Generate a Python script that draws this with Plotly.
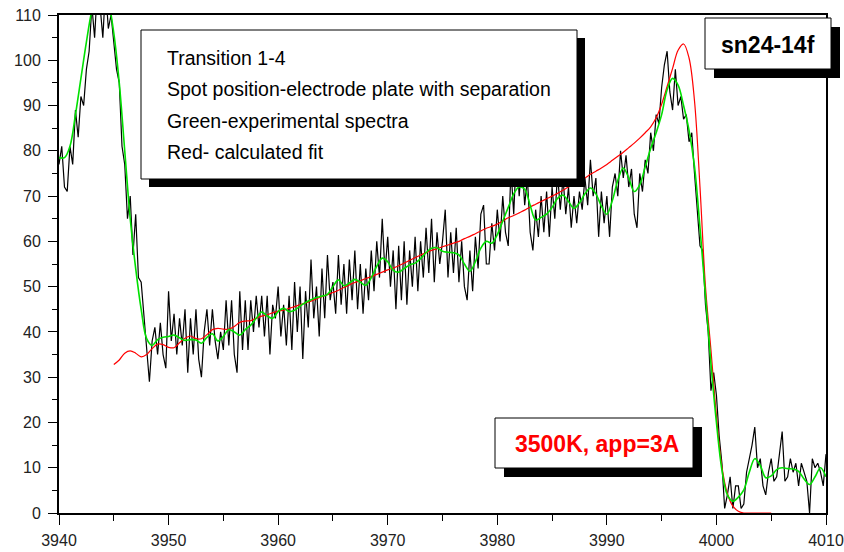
import plotly.graph_objects as go

# Data =========================================================================
x_start = 3940.0

# experimental spectrum (black), one value every 0.25 from 3940 to 4010
black_step = 0.25
black_vals = [
    77, 81, 72, 71, 81, 77, 89, 83, 92, 90, 98, 102,
    112, 105, 116, 112, 105, 116, 107, 110, 104, 98, 95, 81,
    77, 65, 70, 57, 66, 52, 51, 44, 37, 29, 38, 41,
    # 3949 ->
    35, 42, 35, 32, 49, 38, 44, 35, 43, 37, 45, 31,
    43, 35, 45, 34, 30, 40, 45, 37, 45, 38, 34, 40,
    36, 47, 37, 47, 35, 31, 49, 36, 47, 36, 47, 40,
    48, 41, 48, 39, 48, 35, 46, 43, 50, 39, 46, 37,
    48, 36, 51, 40, 50, 34, 49, 41, 56, 43, 50, 39,
    54, 43, 57, 47, 51, 44, 57, 46, 55, 44, 56, 47,
    58, 45, 55, 44, 54, 47, 58, 49, 60, 52, 65, 53,
    61, 50, 58, 45, 59, 47, 60, 46, 58, 50, 61, 49,
    60, 52, 63, 53, 65, 51, 62, 55, 60, 67, 52, 62,
    53, 63, 51, 60, 50, 47, 58, 49, 61, 54, 66, 68,
    55, 55, 64, 58, 67, 60, 70, 62, 59, 76, 66, 80,
    70, 78, 68, 74, 62, 58, 67, 61, 70, 62, 71, 61,
    72, 65, 75, 67, 74, 66, 72, 63, 70, 64, 71, 67,
    74, 68, 78, 70, 74, 61, 71, 64, 70, 61, 72, 75,
    70, 80, 74, 79,
    # 3992 ->
    72, 76, 66, 63, 75, 71, 78, 75, 84, 80, 88, 86,
    94, 99, 102, 93, 89, 98, 90, 92, 87, 88, 82, 84,
    75, 67, 59, 58, 46, 40, 27, 31, 26, 17, 11, 1,
    4, 8, 1, 6, 6, 1, 2, 9, 12, 15, 19, 10,
    12, 6, 4, 9, 12, 7, 8, 13, 18, 7, 8, 12,
    9, 11, 6, 11, 9, 7, 0, 12, 10, 11, 9, 6,
    13,
]

# smoothed spectrum (green), one value every 0.5 from 3940 to 4010
green_step = 0.5
green_vals = [
    78.5, 78.5, 81, 88, 96, 104, 111, 115, 116, 113,
    106, 95, 80, 65, 54, 45, 38.5, 37, 38.3, 38.8,
    39, 39.3, 38.7, 38.1, 38.3, 38.2, 37.5, 38.8, 39.6, 38,
    39, 40.5, 40, 39.3, 40.5, 41.5, 43, 44.4, 43.5, 43,
    44.5, 45.2, 44.5, 44.8, 45.7, 46.5, 47.1, 47.6, 47.9, 48.3,
    50, 51.5, 50.2, 50.8, 51.6, 51, 50.3, 52, 54.5, 56.3,
    55.5, 53.6, 53.2, 54, 54.8, 55.2, 56.2, 57.5, 58.5, 58.6,
    57.8, 57.6, 57.5, 57, 55, 53.4, 55.5, 58.5, 60, 59.6,
    61.5, 64.5, 67.5, 70.5, 72, 71.5, 68, 64.7, 65.3, 66,
    67.5, 69.5, 70.2, 68.8, 67.3, 68.5, 70.5, 71.8, 70.5, 67.8,
    66, 69, 73.5, 76.2, 74, 71, 72.5, 76.5, 80.5, 84,
    88, 93.5, 96, 94.5, 90, 84.5, 76.5, 63, 48, 33,
    20, 9.5, 4, 2.6, 3.5, 5.1, 9, 12, 10.5, 7.8,
    8.2, 9.6, 10, 9.8, 9.7, 9.2, 7.5, 6.3, 8, 10,
    8,
]

# calculated fit (red), one value every 0.5 from 3945 to 4005
red_start = 3945.0
red_step = 0.5
red_vals = [
    32.8, 33.8, 35.3, 35.8, 35.3, 34.5, 35, 36.3, 37.3, 37.2,
    36.6, 36.5, 37.6, 38.6, 39.1, 38.5, 38.5, 39.4, 40.5, 40.8,
    40.6, 40.6, 41.2, 42.1, 42.4, 42.5, 43, 43.5, 43.8, 44.2,
    44.6, 44.8, 45.2, 45.6, 46, 46.4, 46.8, 47.3, 47.8, 48.2,
    48.7, 49.2, 49.8, 50.4, 50.9, 51.3, 51.8, 52.2, 52.7, 53.2,
    53.7, 54.1, 54.6, 55.2, 55.8, 56.4, 57, 57.5, 58, 58.4,
    58.8, 59.2, 59.6, 60, 60.6, 61.1, 61.7, 62.3, 62.9, 63.3,
    63.8, 64.5, 65.2, 65.7, 66.3, 66.9, 67.6, 68.2, 68.8, 69.4,
    70, 70.6, 71.3, 72, 72.6, 73.3, 74, 74.8, 75.5, 76.2,
    77, 77.9, 78.8, 79.7, 80.7, 81.7, 82.8, 84, 85.3, 87.3,
    90.3, 94.2, 98.2, 102.2, 103.6, 100.5, 91, 72, 50, 36,
    21.5, 10.2, 4.3, 1.5, 0.4, 0, 0, 0, 0, 0,
    0,
]

x_tickvals = [3940, 3950, 3960, 3970, 3980, 3990, 4000, 4010]
y_tickvals = [0, 10, 20, 30, 40, 50, 60, 70, 80, 90, 100, 110]

info_lines = [
    "Transition 1-4",
    "Spot position-electrode plate with separation",
    "Green-experimental spectra",
    "Red- calculated fit",
]
sample_label = "sn24-14f"
condition_label = "3500K, app=3A"

# Settings =====================================================================
W, H = 844, 552
L, R, T, B = 59, 18, 15, 39
pw, ph = W - L - R, H - T - B
font_family = "Arial, Liberation Sans, sans-serif"


def px(x):
    return (x - L) / pw


def py(y):
    return (H - B - y) / ph


black_x = [x_start + i * black_step for i in range(len(black_vals))]
green_x = [x_start + i * green_step for i in range(len(green_vals))]
red_x = [red_start + i * red_step for i in range(len(red_vals))]

fig = go.Figure()
fig.add_trace(go.Scatter(x=black_x, y=black_vals, mode="lines",
                         line=dict(color="black", width=1.2), showlegend=False))
fig.add_trace(go.Scatter(x=red_x, y=red_vals, mode="lines",
                         line=dict(color="#ff0000", width=1.2, shape="spline"),
                         showlegend=False))
fig.add_trace(go.Scatter(x=green_x, y=green_vals, mode="lines",
                         line=dict(color="#00e000", width=1.6, shape="spline"),
                         showlegend=False))

axis_common = dict(
    showgrid=False, zeroline=False, automargin=False,
    showline=True, linecolor="black", linewidth=2, mirror=True,
    ticks="outside", tickcolor="black", tickwidth=1,
    tickfont=dict(family=font_family, size=16, color="#222"),
)

fig.update_xaxes(range=[3940, 4010], tickvals=x_tickvals, ticklen=10,
                 ticklabelstandoff=2,
                 minor=dict(ticks="outside", dtick=5, ticklen=6,
                            tickcolor="black", tickwidth=1),
                 **axis_common)
fig.update_yaxes(range=[0, 110], tickvals=y_tickvals, ticklen=9,
                 ticklabelstandoff=4,
                 minor=dict(ticks="outside", dtick=5, ticklen=5,
                            tickcolor="black", tickwidth=1),
                 **axis_common)

# Boxes with drop shadows ------------------------------------------------------
boxes = [
    (141, 30, 577, 179, 8),   # info box
    (705, 18, 831, 69, 9),    # sample name
    (495, 418, 693, 468, 9),  # conditions
]
shapes = []
for x0, y0, x1, y1, off in boxes:
    shapes.append(dict(type="rect", xref="paper", yref="paper", layer="above",
                       x0=px(x0 + off), x1=px(x1 + off),
                       y0=py(y1 + off), y1=py(y0 + off),
                       fillcolor="black", line=dict(width=0)))
    shapes.append(dict(type="rect", xref="paper", yref="paper", layer="above",
                       x0=px(x0), x1=px(x1), y0=py(y1), y1=py(y0),
                       fillcolor="white", line=dict(color="black", width=1)))

annotations = []
for i, line in enumerate(info_lines):
    annotations.append(dict(text=line, xref="paper", yref="paper",
                            x=px(165), y=py(58 + i * 31.3),
                            xanchor="left", yanchor="middle", showarrow=False,
                            font=dict(family=font_family, size=19.5, color="black")))
annotations.append(dict(text="<b>" + sample_label + "</b>", xref="paper", yref="paper",
                        x=px(768), y=py(45), xanchor="center", yanchor="middle",
                        showarrow=False,
                        font=dict(family=font_family, size=23, color="black")))
annotations.append(dict(text="<b>" + condition_label + "</b>", xref="paper", yref="paper",
                        x=px(597), y=py(444), xanchor="center", yanchor="middle",
                        showarrow=False,
                        font=dict(family=font_family, size=23, color="#ff0000")))

fig.update_layout(
    width=W, height=H,
    margin=dict(l=L, r=R, t=T, b=B, autoexpand=False),
    plot_bgcolor="white", paper_bgcolor="white",
    shapes=shapes, annotations=annotations,
    showlegend=False,
)

# page body has a default margin; remove it so the figure sits at (0, 0)
fig.write_html("out.html", config={"displayModeBar": False},
               post_script="document.body.style.margin = '0';")
